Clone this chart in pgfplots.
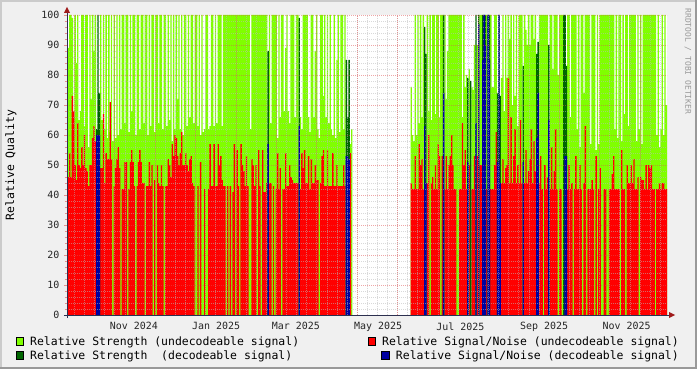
\documentclass[border=0pt]{standalone}
\usepackage{pgfplots}
\pgfplotsset{compat=1.18}
\usepackage{pgfplotstable}
\usepackage{fontspec}
\setmainfont{DejaVu Sans Mono}
\definecolor{bgc}{HTML}{F0F0F0}
\definecolor{shadea}{HTML}{CBCBCB}
\definecolor{shadeb}{HTML}{999999}
\definecolor{gridc}{HTML}{BABABA}
\definecolor{mgridc}{HTML}{E05050}
\definecolor{axisc}{HTML}{2C3050}
\definecolor{arrowc}{HTML}{9F1A1A}
\definecolor{lgreen}{HTML}{80FF00}
\definecolor{sred}{HTML}{FF0000}
\definecolor{dkgreen}{HTML}{006600}
\definecolor{dblue}{HTML}{0000A0}
\pgfplotstableread[row sep=\\]{
d g r \\
-49 89 46 \\ -48 100 54 \\ -47 100 46 \\ -46 99 73 \\ -45 66 68 \\ -44 100 50 \\ -43 84 45 \\ -42 100 64 \\ -41 65 50 \\ -40 68 49 \\
-39 100 56 \\ -38 100 50 \\ -37 63 60 \\ -36 100 49 \\ -35 100 48 \\ -34 56 43 \\ -33 100 50 \\ -32 72 50 \\ -31 100 59 \\ -30 88 63 \\
-29 100 58 \\ -28 0 0 \\ -27 0 0 \\ -26 0 0 \\ -25 100 49 \\ -24 65 49 \\ -23 100 67 \\ -22 62 44 \\ -21 100 54 \\ -20 59 52 \\
-19 100 52 \\ -18 61 71 \\ -17 100 52 \\ -16 58 0 \\ -15 100 43 \\ -14 59 49 \\ -13 100 52 \\ -12 60 56 \\ -11 100 49 \\ -10 62 0 \\
-9 100 42 \\ -8 100 42 \\ -7 64 51 \\ -6 100 51 \\ -5 100 0 \\ -4 61 42 \\ -3 100 51 \\ -2 68 55 \\ -1 100 51 \\ 0 100 43 \\
1 60 0 \\ 2 100 43 \\ 3 100 51 \\ 4 62 55 \\ 5 100 51 \\ 6 100 44 \\ 7 64 44 \\ 8 100 0 \\ 9 100 43 \\ 10 60 43 \\
11 100 51 \\ 12 63 43 \\ 13 100 50 \\ 14 100 0 \\ 15 61 45 \\ 16 100 0 \\ 17 100 50 \\ 18 64 44 \\ 19 100 43 \\ 20 100 50 \\
21 62 43 \\ 22 100 0 \\ 23 100 43 \\ 24 63 43 \\ 25 100 52 \\ 26 65 50 \\ 27 100 46 \\ 28 58 57 \\ 29 100 53 \\ 30 62 60 \\
31 100 59 \\ 32 72 53 \\ 33 100 50 \\ 34 62 54 \\ 35 100 61 \\ 36 60 50 \\ 37 100 50 \\ 38 100 54 \\ 39 63 50 \\ 40 100 48 \\
41 66 52 \\ 42 100 53 \\ 43 100 44 \\ 44 64 43 \\ 45 100 0 \\ 46 100 0 \\ 47 63 43 \\ 48 100 0 \\ 49 60 51 \\ 50 100 0 \\
51 61 0 \\ 52 62 42 \\ 53 100 0 \\ 54 100 0 \\ 55 62 42 \\ 56 63 57 \\ 57 100 43 \\ 58 100 43 \\ 59 63 57 \\ 60 100 43 \\
61 64 43 \\ 62 100 57 \\ 63 100 50 \\ 64 100 53 \\ 65 63 45 \\ 66 100 43 \\ 67 100 43 \\ 68 100 0 \\ 69 100 43 \\ 70 100 0 \\
71 100 43 \\ 72 100 0 \\ 73 100 41 \\ 74 100 57 \\ 75 100 0 \\ 76 100 55 \\ 77 100 43 \\ 78 100 0 \\ 79 100 57 \\ 80 100 50 \\
81 100 48 \\ 82 100 43 \\ 83 100 53 \\ 84 100 43 \\ 85 100 0 \\ 86 62 0 \\ 87 100 52 \\ 88 100 50 \\ 89 100 43 \\ 90 100 50 \\
91 100 0 \\ 92 100 55 \\ 93 100 43 \\ 94 100 0 \\ 95 100 55 \\ 96 100 41 \\ 97 100 41 \\ 98 100 44 \\ 99 0 0 \\ 100 100 44 \\
101 64 44 \\ 102 100 0 \\ 103 100 43 \\ 104 100 0 \\ 105 100 42 \\ 106 59 54 \\ 107 100 42 \\ 108 66 49 \\ 109 100 0 \\ 110 100 42 \\
111 68 42 \\ 112 89 54 \\ 113 100 43 \\ 114 68 43 \\ 115 64 50 \\ 116 100 46 \\ 117 100 45 \\ 118 100 44 \\ 119 66 44 \\ 120 100 44 \\
121 100 44 \\ 122 0 0 \\ 123 66 42 \\ 124 62 54 \\ 125 100 49 \\ 126 100 55 \\ 127 100 44 \\ 128 100 44 \\ 129 66 53 \\ 130 61 42 \\
131 100 52 \\ 132 100 44 \\ 133 66 44 \\ 134 88 50 \\ 135 100 45 \\ 136 62 45 \\ 137 59 0 \\ 138 100 44 \\ 139 100 53 \\ 140 73 55 \\
141 100 43 \\ 142 66 43 \\ 143 100 55 \\ 144 64 43 \\ 145 100 43 \\ 146 62 43 \\ 147 60 54 \\ 148 100 43 \\ 149 59 43 \\ 150 85 50 \\
151 100 43 \\ 152 61 43 \\ 153 100 43 \\ 154 100 43 \\ 155 62 50 \\ 156 100 43 \\ 157 0 0 \\ 158 0 0 \\ 159 0 0 \\ 160 57 54 \\
161 62 0 \\ 162 0 0 \\
205 76 44 \\ 206 60 42 \\ 207 58 42 \\ 208 100 53 \\ 209 60 42 \\ 210 100 42 \\ 211 64 57 \\ 212 100 50 \\ 213 66 52 \\ 214 100 42 \\
215 0 0 \\ 216 0 0 \\ 217 100 44 \\ 218 68 60 \\ 219 100 0 \\ 220 65 44 \\ 221 100 46 \\ 222 100 42 \\ 223 67 50 \\ 224 100 42 \\
225 100 57 \\ 226 66 53 \\ 227 100 0 \\ 228 100 53 \\ 229 0 0 \\ 230 100 42 \\ 231 72 53 \\ 232 88 42 \\ 233 100 50 \\ 234 100 53 \\
235 100 60 \\ 236 100 50 \\ 237 100 42 \\ 238 100 42 \\ 239 100 0 \\ 240 100 0 \\ 241 100 42 \\ 242 100 42 \\ 243 66 64 \\ 244 100 50 \\
245 76 55 \\ 246 80 42 \\ 247 0 0 \\ 248 82 50 \\ 249 0 0 \\ 250 76 42 \\ 251 75 42 \\ 252 90 53 \\ 253 0 0 \\ 254 90 53 \\
255 0 0 \\ 256 100 50 \\ 257 100 50 \\ 258 0 0 \\ 259 0 0 \\ 260 0 0 \\ 261 100 42 \\ 262 0 0 \\ 263 0 0 \\ 264 100 42 \\
265 76 42 \\ 266 76 42 \\ 267 100 50 \\ 268 100 61 \\ 269 0 0 \\ 270 0 0 \\ 271 0 0 \\ 272 79 44 \\ 273 100 52 \\ 274 68 44 \\
275 100 49 \\ 276 79 50 \\ 277 100 79 \\ 278 92 44 \\ 279 100 66 \\ 280 70 44 \\ 281 100 53 \\ 282 73 62 \\ 283 100 44 \\ 284 63 50 \\
285 100 44 \\ 286 100 65 \\ 287 100 44 \\ 288 0 0 \\ 289 100 44 \\ 290 95 55 \\ 291 90 44 \\ 292 100 48 \\ 293 90 52 \\ 294 100 62 \\
295 100 44 \\ 296 92 58 \\ 297 100 48 \\ 298 0 0 \\ 299 0 0 \\ 300 100 44 \\ 301 100 53 \\ 302 100 42 \\ 303 100 0 \\ 304 100 50 \\
305 100 42 \\ 306 100 46 \\ 307 0 0 \\ 308 100 42 \\ 309 100 56 \\ 310 82 42 \\ 311 100 48 \\ 312 100 62 \\ 313 100 42 \\ 314 80 0 \\
315 100 42 \\ 316 100 42 \\ 317 100 0 \\ 318 0 0 \\ 319 0 0 \\ 320 0 0 \\ 321 100 42 \\ 322 100 50 \\ 323 66 42 \\ 324 100 44 \\
325 100 0 \\ 326 100 42 \\ 327 100 53 \\ 328 62 42 \\ 329 100 42 \\ 330 56 50 \\ 331 100 42 \\ 332 100 0 \\ 333 74 44 \\ 334 100 63 \\
335 100 0 \\ 336 100 42 \\ 337 100 42 \\ 338 57 42 \\ 339 100 45 \\ 340 100 42 \\ 341 100 0 \\ 342 55 53 \\ 343 100 0 \\ 344 57 42 \\
345 100 49 \\ 346 100 0 \\ 347 100 0 \\ 348 100 42 \\ 349 100 42 \\ 350 100 0 \\ 351 100 0 \\ 352 100 42 \\ 353 100 42 \\ 354 100 47 \\
355 100 53 \\ 356 62 42 \\ 357 100 42 \\ 358 59 42 \\ 359 100 42 \\ 360 100 0 \\ 361 58 55 \\ 362 100 42 \\ 363 67 42 \\ 364 100 0 \\
365 100 50 \\ 366 63 44 \\ 367 100 44 \\ 368 100 50 \\ 369 100 44 \\ 370 100 52 \\ 371 100 42 \\ 372 58 42 \\ 373 100 46 \\ 374 62 0 \\
375 100 46 \\ 376 57 45 \\ 377 100 45 \\ 378 100 42 \\ 379 100 50 \\ 380 100 42 \\ 381 100 50 \\ 382 100 49 \\ 383 100 50 \\ 384 100 42 \\
385 100 42 \\ 386 100 0 \\ 387 60 42 \\ 388 100 42 \\ 389 56 44 \\ 390 62 42 \\ 391 100 44 \\ 392 60 44 \\ 393 100 42 \\ 394 70 42 \\
395 0 0 \\
}\maintbl
\begin{document}
\begin{tikzpicture}[x=1bp,y=1bp]
\fill[bgc] (-67,-54) rectangle (630,315);
\fill[shadea] (-67,313) rectangle (630,315);
\fill[shadea] (-67,-54) rectangle (-65,315);
\fill[shadeb] (-67,-54) rectangle (630,-52);
\fill[shadeb] (628,-54) rectangle (630,315);
\begin{axis}[
  at={(0,0)}, anchor=south west, scale only axis,
  width=600bp, height=300bp,
  xmin=-49.5, xmax=395, ymin=0, ymax=100,
  axis on top,
  axis background/.style={fill=white},
  axis x line*=bottom, axis y line*=left,
  axis line style={draw=none},
  xtick={0,61,120,181,242,304,365},
  xticklabels={Nov 2024,Jan 2025,Mar 2025,May 2025,Jul 2025,Sep 2025,Nov 2025},
  xtick style={draw=none},
  minor xtick={-44.0,-36.5175,...,395},
  xminorgrids=true,
  extra x ticks={-44.0,-14.07,...,395},
  extra x tick labels={},
  extra x tick style={xmajorgrids=true, tick style={draw=mgridc, draw opacity=0.6}},
  ytick={0,10,...,100},
  minor y tick num=4,
  ymajorgrids=true, yminorgrids=true,
  major grid style={draw=mgridc, draw opacity=0.5, line width=0.8bp, dash pattern=on 1bp off 1bp},
  minor grid style={draw=gridc, draw opacity=0.55, line width=0.8bp, dash pattern=on 1bp off 1bp},
  tick align=outside, major tick length=3bp, minor tick length=2bp,
  ytick style={draw=mgridc, draw opacity=0.6},
  minor tick style={draw=gridc},
  /pgf/number format/assume math mode=true,
  ticklabel style={font=\fontsize{10}{12}\selectfont, text=black!85},
  yticklabel style={xshift=-1bp},
  xticklabel style={yshift=-1bp},
]
\addplot[const plot, fill=lgreen, draw=none] table[x=d, y=g] {\maintbl} \closedcycle;
\addplot[const plot, fill=sred, draw=none] table[x=d, y=r] {\maintbl} \closedcycle;
\addplot[ybar, bar width=1, bar shift=0pt, fill=dkgreen, draw=none] coordinates {
(-27.5,62) (-26.5,100) (-25.5,74) (99.5,88) (122.5,99) (157.5,85) (158.5,66) (159.5,85)
(215.5,96) (216.5,87) (229.5,100) (247.5,79) (249.5,78) (253.5,100) (255.5,100) (258.5,100) (259.5,100) (260.5,100)
(262.5,100) (263.5,100) (269.5,74) (270.5,100) (271.5,73) (288.5,83) (298.5,87) (299.5,91) (307.5,90)
(318.5,100) (319.5,100) (320.5,83)};
\addplot[ybar, bar width=1, bar shift=0pt, fill=dblue, draw=none] coordinates {
(-27.5,60) (-26.5,60) (-25.5,60) (99.5,57) (122.5,63) (157.5,53) (158.5,53) (159.5,52)
(215.5,63) (216.5,44) (229.5,74) (247.5,51) (253.5,64) (255.5,97) (258.5,85) (259.5,100) (260.5,90)
(262.5,100) (263.5,85) (269.5,51) (270.5,100) (271.5,44) (288.5,51) (298.5,59) (299.5,74) (307.5,65)
(319.5,53) (320.5,53)};
\end{axis}
\draw[axisc, line width=0.9bp] (-3,0) -- (603,0);
\draw[axisc, line width=0.9bp] (0,-3) -- (0,303);
\fill[arrowc] (602,3) -- (608,0) -- (602,-3) -- cycle;
\fill[arrowc] (-3,302) -- (0,308) -- (3,302) -- cycle;
\node[rotate=90, font=\fontsize{11.5}{13}\selectfont] at (-56,150) {Relative Quality};
\node[rotate=-90, anchor=west, font=\fontsize{8}{9}\selectfont, text=black!40] at (621,310) {RRDTOOL / TOBI OETIKER};
\begin{scope}[font=\fontsize{11.5}{13}\selectfont]
\node[anchor=base west, inner sep=0] (l1) at (-37,-30) {Relative Strength (undecodeable signal)};
\node[anchor=base east, inner sep=0] (l2) at (612,-30) {Relative Signal/Noise (undecodeable signal)};
\node[anchor=base west, inner sep=0] (l3) at (-37,-44) {Relative Strength\ \ (decodeable signal)};
\node[anchor=base east, inner sep=0] (l4) at (612,-44) {Relative Signal/Noise (decodeable signal)};
\end{scope}
\filldraw[fill=lgreen, draw=black, line width=0.6bp] ([xshift=-14bp, yshift=-0.5bp]l1.base west) rectangle ++(7.5bp,8.5bp);
\filldraw[fill=sred, draw=black, line width=0.6bp] ([xshift=-14bp, yshift=-0.5bp]l2.base west) rectangle ++(7.5bp,8.5bp);
\filldraw[fill=dkgreen, draw=black, line width=0.6bp] ([xshift=-14bp, yshift=-0.5bp]l3.base west) rectangle ++(7.5bp,8.5bp);
\filldraw[fill=dblue, draw=black, line width=0.6bp] ([xshift=-14bp, yshift=-0.5bp]l4.base west) rectangle ++(7.5bp,8.5bp);
\end{tikzpicture}
\end{document}
